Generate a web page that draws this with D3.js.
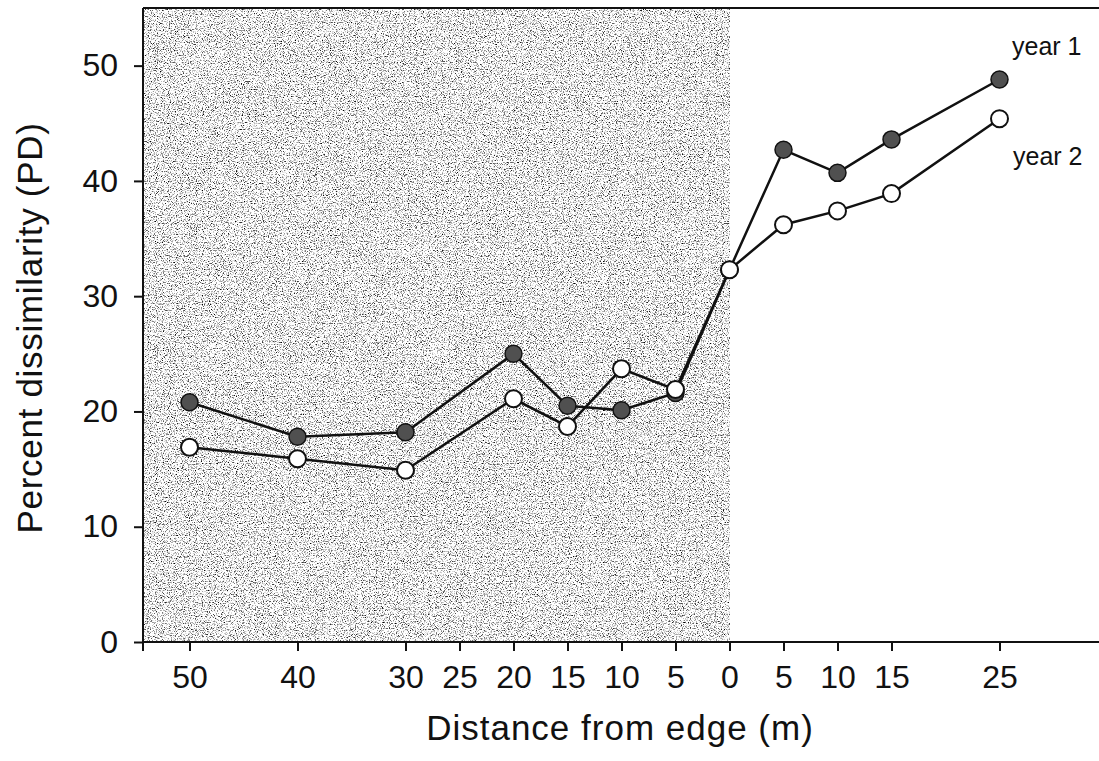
<!DOCTYPE html>
<html>
<script src="https://d3js.org/d3.v7.min.js"></script>
<style>
    body { margin: 0; background: #fff; }
    svg { display: block; }
    text { font-family: "Liberation Sans", Arial, Helvetica, sans-serif; fill: #111; }
</style>
<body>
<svg width="1099" height="761"></svg>
<script>
    // distance from edge: negative = inside forest (shaded side)
    const distance = [-50, -40, -30, -20, -15, -10, -5, 0, 5, 10, 15, 25];
    const year1 = [20.8, 17.8, 18.2, 25.0, 20.5, 20.1, 21.6, 32.3, 42.7, 40.7, 43.6, 48.8];
    const year2 = [16.9, 15.9, 14.9, 21.1, 18.7, 23.7, 21.9, 32.3, 36.2, 37.4, 38.9, 45.4];
    const xTicks = [-50, -40, -30, -25, -20, -15, -10, -5, 0, 5, 10, 15, 25];
    const yTicks = [0, 10, 20, 30, 40, 50];

    const svg = d3.select('svg');
    const plotL = 143, plotR = 1099, plotT = 8, plotB = 642;

    const x = d3.scaleLinear().domain([-50, 25]).range([189.5, 999.5]);
    const y = d3.scaleLinear().domain([0, 55]).range([plotB, plotT]);

    // grainy scan-like shading
    const defs = svg.append('defs');
    const f = defs.append('filter').attr('id', 'grain')
        .attr('x', 0).attr('y', 0).attr('width', '100%').attr('height', '100%')
        .attr('color-interpolation-filters', 'sRGB');
    f.append('feTurbulence').attr('type', 'fractalNoise')
        .attr('baseFrequency', 0.85).attr('numOctaves', 3).attr('seed', 7);
    f.append('feColorMatrix').attr('type', 'matrix')
        .attr('values', '1 0 0 0 0  1 0 0 0 0  1 0 0 0 0  0 0 0 0 1');
    const ct = f.append('feComponentTransfer');
    ['feFuncR', 'feFuncG', 'feFuncB'].forEach(function (fn) {
        ct.append(fn).attr('type', 'linear').attr('slope', 3).attr('intercept', -0.5);
    });

    svg.append('rect')
        .attr('x', plotL).attr('y', plotT)
        .attr('width', x(0) - plotL).attr('height', plotB - plotT)
        .attr('fill', '#aaa')
        .attr('filter', 'url(#grain)');

    // frame
    svg.append('line').attr('x1', plotL).attr('x2', plotR).attr('y1', plotT).attr('y2', plotT)
        .attr('stroke', '#111').attr('stroke-width', 2);
    svg.append('line').attr('x1', plotL).attr('x2', plotR).attr('y1', plotB).attr('y2', plotB)
        .attr('stroke', '#111').attr('stroke-width', 2);
    svg.append('line').attr('x1', plotL).attr('x2', plotL).attr('y1', plotT).attr('y2', plotB + 9)
        .attr('stroke', '#111').attr('stroke-width', 2);

    const xAxis = svg.append('g').attr('transform', 'translate(0,' + plotB + ')')
        .call(d3.axisBottom(x).tickValues(xTicks).tickFormat(function (d) { return Math.abs(d); })
            .tickSize(9).tickSizeOuter(0).tickPadding(14));
    xAxis.select('.domain').remove();
    xAxis.selectAll('line').attr('stroke', '#111').attr('stroke-width', 2);
    xAxis.selectAll('text').style('font-size', '32px').style('font-family', '"Liberation Sans", Arial, sans-serif').attr('fill', '#111');

    const yAxis = svg.append('g').attr('transform', 'translate(' + plotL + ',0)')
        .call(d3.axisLeft(y).tickValues(yTicks).tickSize(9).tickSizeOuter(0).tickPadding(16));
    yAxis.select('.domain').remove();
    yAxis.selectAll('line').attr('stroke', '#111').attr('stroke-width', 2);
    yAxis.selectAll('text').style('font-size', '32px').style('font-family', '"Liberation Sans", Arial, sans-serif').attr('fill', '#111');

    // axis titles
    svg.append('text')
        .attr('x', 620).attr('y', 740)
        .attr('text-anchor', 'middle')
        .style('font-size', '35px').style('letter-spacing', '1px')
        .text('Distance from edge (m)');

    svg.append('text')
        .attr('transform', 'translate(42,328) rotate(-90)')
        .attr('text-anchor', 'middle')
        .style('font-size', '35px').style('letter-spacing', '0.7px')
        .text('Percent dissimilarity (PD)');

    // lines
    const line = d3.line()
        .x(function (d) { return x(d[0]); })
        .y(function (d) { return y(d[1]); });

    const s1 = distance.map(function (d, i) { return [d, year1[i]]; });
    const s2 = distance.map(function (d, i) { return [d, year2[i]]; });

    svg.append('path').datum(s1).attr('d', line)
        .attr('fill', 'none').attr('stroke', '#111').attr('stroke-width', 2.5);
    svg.append('path').datum(s2).attr('d', line)
        .attr('fill', 'none').attr('stroke', '#111').attr('stroke-width', 2.5);

    svg.append('g').selectAll('circle')
        .data(s1).enter().append('circle')
        .attr('cx', function (d) { return x(d[0]); })
        .attr('cy', function (d) { return y(d[1]); })
        .attr('r', 8.5)
        .attr('fill', '#505050').attr('stroke', '#111').attr('stroke-width', 1.5);

    svg.append('g').selectAll('circle')
        .data(s2).enter().append('circle')
        .attr('cx', function (d) { return x(d[0]); })
        .attr('cy', function (d) { return y(d[1]); })
        .attr('r', 8.5)
        .attr('fill', '#fff').attr('stroke', '#111').attr('stroke-width', 2);

    // series labels
    svg.append('text').attr('x', 1012).attr('y', 55)
        .style('font-size', '25px').text('year 1');
    svg.append('text').attr('x', 1013).attr('y', 165)
        .style('font-size', '25px').text('year 2');
</script>
</body>
</html>
